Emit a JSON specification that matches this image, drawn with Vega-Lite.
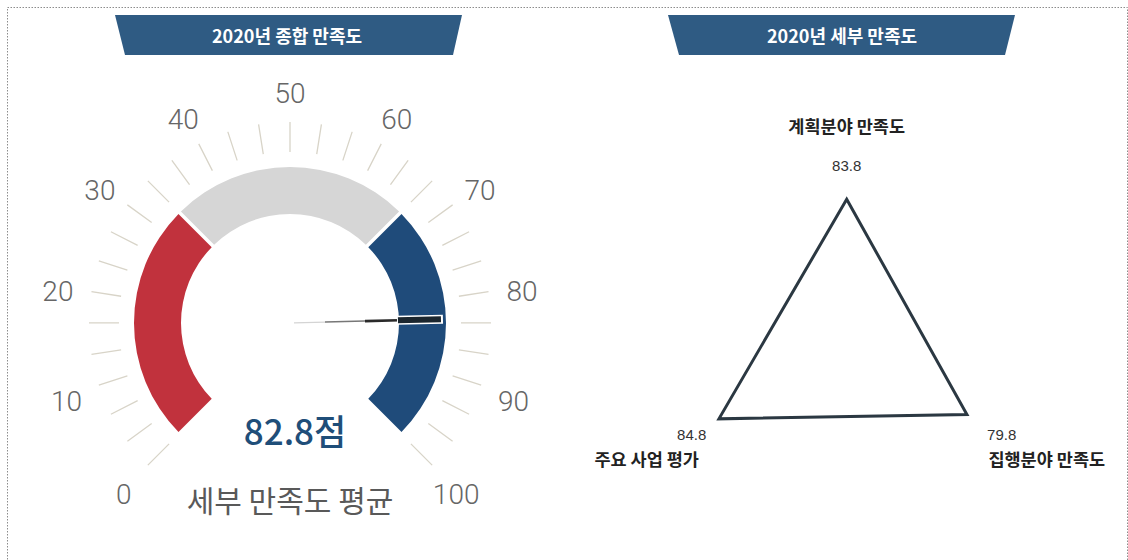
{
  "$schema": "https://vega.github.io/schema/vega-lite/v6.json",
  "width": 1120,
  "height": 554,
  "autosize": {"type": "none"},
  "padding": {"left": 7, "top": 7, "right": 1, "bottom": 0},
  "background": "white",
  "config": {
    "view": {"stroke": "#8c8c8c", "strokeDash": [1.5, 1.5], "strokeWidth": 1},
    "axis": {"disable": true},
    "legend": {"disable": true}
  },
  "datasets": {
    "segments": [
      {"구간": "낮음", "시작": 0, "끝": 33.33},
      {"구간": "보통", "시작": 33.33, "끝": 66.67},
      {"구간": "높음", "시작": 66.67, "끝": 100}
    ],
    "ticks": [
      {"값": 0}, {"값": 3.33}, {"값": 6.67}, {"값": 10}, {"값": 13.33}, {"값": 16.67}, {"값": 20}, {"값": 23.33},
      {"값": 26.67}, {"값": 30}, {"값": 33.33}, {"값": 36.67}, {"값": 40}, {"값": 43.33}, {"값": 46.67}, {"값": 50},
      {"값": 53.33}, {"값": 56.67}, {"값": 60}, {"값": 63.33}, {"값": 66.67}, {"값": 70}, {"값": 73.33}, {"값": 76.67},
      {"값": 80}, {"값": 83.33}, {"값": 86.67}, {"값": 90}, {"값": 93.33}, {"값": 96.67}, {"값": 100}
    ],
    "tickLabels": [
      {"값": 0}, {"값": 10}, {"값": 20}, {"값": 30}, {"값": 40}, {"값": 50},
      {"값": 60}, {"값": 70}, {"값": 80}, {"값": 90}, {"값": 100}
    ],
    "overall": [{"항목": "세부 만족도 평균", "점수": 82.8}],
    "detail": [
      {"항목": "계획분야 만족도", "점수": 83.8, "순서": 0},
      {"항목": "집행분야 만족도", "점수": 79.8, "순서": 1},
      {"항목": "주요 사업 평가", "점수": 84.8, "순서": 2}
    ],
    "banners": [
      {"제목": "2020년 종합 만족도", "x": -175, "y": 308, "y2": 308},
      {"제목": "2020년 종합 만족도", "x": -165, "y": 308, "y2": 268},
      {"제목": "2020년 종합 만족도", "x": 163, "y": 308, "y2": 268},
      {"제목": "2020년 종합 만족도", "x": 172, "y": 308, "y2": 308},
      {"제목": "2020년 세부 만족도", "x": 378, "y": 308, "y2": 308},
      {"제목": "2020년 세부 만족도", "x": 389, "y": 308, "y2": 268},
      {"제목": "2020년 세부 만족도", "x": 715, "y": 308, "y2": 268},
      {"제목": "2020년 세부 만족도", "x": 725, "y": 308, "y2": 308}
    ],
    "bannerTitles": [
      {"제목": "2020년 종합 만족도", "x": -3, "y": 285},
      {"제목": "2020년 세부 만족도", "x": 552, "y": 285}
    ]
  },
  "resolve": {"scale": {"x": "independent", "y": "independent", "theta": "independent"}},
  "layer": [
    {
      "layer": [
        {
          "data": {"name": "banners"},
          "mark": {"type": "area", "color": "#2f5b83", "interpolate": "linear"},
          "encoding": {
            "x": {"field": "x", "type": "quantitative", "scale": {"domain": [-283, 837], "nice": false, "zero": false}, "axis": null},
            "y": {"field": "y", "type": "quantitative", "scale": {"domain": [-238, 316], "nice": false, "zero": false}, "axis": null},
            "y2": {"field": "y2"},
            "detail": {"field": "제목", "type": "nominal"}
          }
        },
        {
          "data": {"name": "bannerTitles"},
          "mark": {"type": "text", "color": "white", "font": "Noto Sans CJK KR", "fontWeight": "bold", "fontSize": 18, "align": "center", "baseline": "middle"},
          "encoding": {
            "x": {"field": "x", "type": "quantitative", "scale": {"domain": [-283, 837], "nice": false, "zero": false}, "axis": null},
            "y": {"field": "y", "type": "quantitative", "scale": {"domain": [-238, 316], "nice": false, "zero": false}, "axis": null},
            "text": {"field": "제목"}
          }
        },
        {
          "data": {"name": "segments"},
          "mark": {"type": "arc", "innerRadius": 109, "outerRadius": 156, "padAngle": 0.018},
          "encoding": {
            "x": {"datum": 0, "type": "quantitative", "scale": {"domain": [-283, 837], "nice": false, "zero": false}, "axis": null},
            "y": {"datum": 0, "type": "quantitative", "scale": {"domain": [-238, 316], "nice": false, "zero": false}, "axis": null},
            "theta": {"field": "시작", "type": "quantitative", "stack": null, "scale": {"domain": [0, 100], "range": [-2.35619, 2.35619], "zero": false, "nice": false}},
            "theta2": {"field": "끝"},
            "color": {"field": "구간", "type": "nominal", "scale": {"domain": ["낮음", "보통", "높음"], "range": ["#c1323d", "#d6d6d6", "#1f4b7a"]}, "legend": null}
          }
        },
        {
          "data": {"name": "ticks"},
          "mark": {"type": "arc", "innerRadius": 171, "outerRadius": 201, "stroke": "#d8d4c8", "strokeWidth": 1.3, "fill": "#d8d4c8"},
          "encoding": {
            "x": {"datum": 0, "type": "quantitative", "scale": {"domain": [-283, 837], "nice": false, "zero": false}, "axis": null},
            "y": {"datum": 0, "type": "quantitative", "scale": {"domain": [-238, 316], "nice": false, "zero": false}, "axis": null},
            "theta": {"field": "값", "type": "quantitative", "stack": null, "scale": {"domain": [0, 100], "range": [-2.35619, 2.35619], "zero": false, "nice": false}},
            "theta2": {"field": "값"}
          }
        },
        {
          "data": {"name": "tickLabels"},
          "mark": {"type": "text", "radius": 235, "dy": 7, "font": "Roboto", "fontWeight": 300, "fontSize": 28, "color": "#666666", "align": "center", "baseline": "middle"},
          "encoding": {
            "x": {"datum": 0, "type": "quantitative", "scale": {"domain": [-283, 837], "nice": false, "zero": false}, "axis": null},
            "y": {"datum": 0, "type": "quantitative", "scale": {"domain": [-238, 316], "nice": false, "zero": false}, "axis": null},
            "theta": {"field": "값", "type": "quantitative", "stack": null, "scale": {"domain": [0, 100], "range": [-2.35619, 2.35619], "zero": false, "nice": false}},
            "text": {"field": "값", "type": "quantitative", "format": "d"}
          }
        },
        {
          "data": {"name": "overall"},
          "mark": {"type": "arc", "innerRadius": 4, "outerRadius": 35, "stroke": "#d4d4d4", "strokeWidth": 1.3},
          "encoding": {
            "x": {"datum": 0, "type": "quantitative", "scale": {"domain": [-283, 837], "nice": false, "zero": false}, "axis": null},
            "y": {"datum": 0, "type": "quantitative", "scale": {"domain": [-238, 316], "nice": false, "zero": false}, "axis": null},
            "theta": {"field": "점수", "type": "quantitative", "stack": null, "scale": {"domain": [0, 100], "range": [-2.35619, 2.35619], "zero": false, "nice": false}},
            "theta2": {"field": "점수"}
          }
        },
        {
          "data": {"name": "overall"},
          "mark": {"type": "arc", "innerRadius": 35, "outerRadius": 75, "stroke": "#777777", "strokeWidth": 1.5},
          "encoding": {
            "x": {"datum": 0, "type": "quantitative", "scale": {"domain": [-283, 837], "nice": false, "zero": false}, "axis": null},
            "y": {"datum": 0, "type": "quantitative", "scale": {"domain": [-238, 316], "nice": false, "zero": false}, "axis": null},
            "theta": {"field": "점수", "type": "quantitative", "stack": null, "scale": {"domain": [0, 100], "range": [-2.35619, 2.35619], "zero": false, "nice": false}},
            "theta2": {"field": "점수"}
          }
        },
        {
          "data": {"name": "overall"},
          "mark": {"type": "arc", "innerRadius": 75, "outerRadius": 109, "stroke": "#2a2a2a", "strokeWidth": 2.6},
          "encoding": {
            "x": {"datum": 0, "type": "quantitative", "scale": {"domain": [-283, 837], "nice": false, "zero": false}, "axis": null},
            "y": {"datum": 0, "type": "quantitative", "scale": {"domain": [-238, 316], "nice": false, "zero": false}, "axis": null},
            "theta": {"field": "점수", "type": "quantitative", "stack": null, "scale": {"domain": [0, 100], "range": [-2.35619, 2.35619], "zero": false, "nice": false}},
            "theta2": {"field": "점수"}
          }
        },
        {
          "data": {"name": "overall"},
          "mark": {"type": "arc", "innerRadius": 107, "outerRadius": 153, "stroke": "white", "strokeWidth": 9},
          "encoding": {
            "x": {"datum": 0, "type": "quantitative", "scale": {"domain": [-283, 837], "nice": false, "zero": false}, "axis": null},
            "y": {"datum": 0, "type": "quantitative", "scale": {"domain": [-238, 316], "nice": false, "zero": false}, "axis": null},
            "theta": {"field": "점수", "type": "quantitative", "stack": null, "scale": {"domain": [0, 100], "range": [-2.35619, 2.35619], "zero": false, "nice": false}},
            "theta2": {"field": "점수"}
          }
        },
        {
          "data": {"name": "overall"},
          "mark": {"type": "arc", "innerRadius": 108, "outerRadius": 151, "stroke": "#1b262e", "strokeWidth": 6},
          "encoding": {
            "x": {"datum": 0, "type": "quantitative", "scale": {"domain": [-283, 837], "nice": false, "zero": false}, "axis": null},
            "y": {"datum": 0, "type": "quantitative", "scale": {"domain": [-238, 316], "nice": false, "zero": false}, "axis": null},
            "theta": {"field": "점수", "type": "quantitative", "stack": null, "scale": {"domain": [0, 100], "range": [-2.35619, 2.35619], "zero": false, "nice": false}},
            "theta2": {"field": "점수"}
          }
        },
        {
          "data": {"name": "overall"},
          "mark": {"type": "text", "dy": 111, "dx": 5, "font": "Noto Sans CJK KR", "fontWeight": 500, "fontSize": 35, "color": "#1f4e79", "align": "center", "baseline": "middle", "text": {"expr": "format(datum['점수'], '.1f') + '점'"}},
          "encoding": {
            "x": {"datum": 0, "type": "quantitative", "scale": {"domain": [-283, 837], "nice": false, "zero": false}, "axis": null},
            "y": {"datum": 0, "type": "quantitative", "scale": {"domain": [-238, 316], "nice": false, "zero": false}, "axis": null}
          }
        },
        {
          "data": {"name": "overall"},
          "mark": {"type": "text", "dy": 180, "font": "Noto Sans CJK KR", "fontWeight": 400, "fontSize": 30, "color": "#595959", "align": "center", "baseline": "middle"},
          "encoding": {
            "x": {"datum": 0, "type": "quantitative", "scale": {"domain": [-283, 837], "nice": false, "zero": false}, "axis": null},
            "y": {"datum": 0, "type": "quantitative", "scale": {"domain": [-238, 316], "nice": false, "zero": false}, "axis": null},
            "text": {"field": "항목"}
          }
        }
      ]
    },
    {
      "data": {"name": "detail"},
      "layer": [
        {
          "transform": [
            {"calculate": "datum['점수'] * sin(datum['순서'] * 2 * PI / 3)", "as": "px"},
            {"calculate": "datum['점수'] * cos(datum['순서'] * 2 * PI / 3)", "as": "py"}
          ],
          "mark": {"type": "line", "interpolate": "linear-closed", "stroke": "#2b3842", "strokeWidth": 3, "strokeJoin": "miter"},
          "encoding": {
            "x": {"field": "px", "type": "quantitative", "scale": {"domain": [-482.6, 161.1], "nice": false, "zero": false}, "axis": null},
            "y": {"field": "py", "type": "quantitative", "scale": {"domain": [-124.1, 194.3], "nice": false, "zero": false}, "axis": null},
            "order": {"field": "순서", "type": "quantitative"}
          }
        },
        {
          "mark": {"type": "text", "radius": 179, "font": "Liberation Sans", "fontSize": 15, "color": "#333333", "align": "center", "baseline": "middle"},
          "encoding": {
            "x": {"datum": 0, "type": "quantitative", "scale": {"domain": [-482.6, 161.1], "nice": false, "zero": false}, "axis": null},
            "y": {"datum": 0, "type": "quantitative", "scale": {"domain": [-124.1, 194.3], "nice": false, "zero": false}, "axis": null},
            "theta": {"field": "순서", "type": "quantitative", "stack": null, "scale": {"domain": [0, 3], "range": [0, 6.283185], "zero": false, "nice": false}},
            "text": {"field": "점수", "type": "quantitative", "format": ".1f"}
          }
        },
        {
          "transform": [{"filter": "datum['순서'] == 0"}],
          "mark": {"type": "text", "radius": 217, "font": "Noto Sans CJK KR", "fontWeight": "bold", "fontSize": 17.5, "color": "#222222", "align": "center", "baseline": "middle"},
          "encoding": {
            "x": {"datum": 0, "type": "quantitative", "scale": {"domain": [-482.6, 161.1], "nice": false, "zero": false}, "axis": null},
            "y": {"datum": 0, "type": "quantitative", "scale": {"domain": [-124.1, 194.3], "nice": false, "zero": false}, "axis": null},
            "theta": {"field": "순서", "type": "quantitative", "stack": null, "scale": {"domain": [0, 3], "range": [0, 6.283185], "zero": false, "nice": false}},
            "text": {"field": "항목"}
          }
        },
        {
          "transform": [{"filter": "datum['순서'] != 0"}],
          "mark": {"type": "text", "radius": 231, "font": "Noto Sans CJK KR", "fontWeight": "bold", "fontSize": 17.5, "color": "#222222", "align": "center", "baseline": "middle"},
          "encoding": {
            "x": {"datum": 0, "type": "quantitative", "scale": {"domain": [-482.6, 161.1], "nice": false, "zero": false}, "axis": null},
            "y": {"datum": 0, "type": "quantitative", "scale": {"domain": [-124.1, 194.3], "nice": false, "zero": false}, "axis": null},
            "theta": {"field": "순서", "type": "quantitative", "stack": null, "scale": {"domain": [0, 3], "range": [0, 6.283185], "zero": false, "nice": false}},
            "text": {"field": "항목"}
          }
        }
      ]
    }
  ]
}
